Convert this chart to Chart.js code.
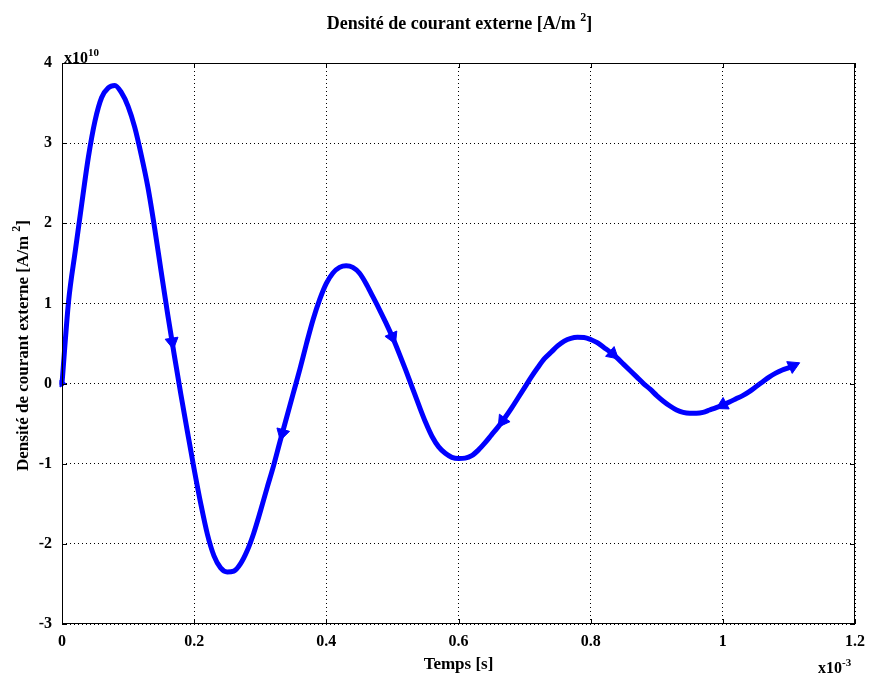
<!DOCTYPE html>
<html>
<head>
<meta charset="utf-8">
<script src="https://cdn.jsdelivr.net/npm/chart.js@4"></script>
<style>
  html, body { margin: 0; padding: 0; background: #fff; }
  canvas { display: block; }
</style>
</head>
<body>
<canvas id="c" width="873" height="678"></canvas>
<script>
// Time samples (x10^-3 s), every 0.01 ms up to the end of the trace
const timeMs = [
  0, 0.01, 0.02, 0.03, 0.04, 0.05, 0.06, 0.07, 0.08, 0.09,
  0.10, 0.11, 0.12, 0.13, 0.14, 0.15, 0.16, 0.17, 0.18, 0.19,
  0.20, 0.21, 0.22, 0.23, 0.24, 0.25, 0.26, 0.27, 0.28, 0.29,
  0.30, 0.31, 0.32, 0.33, 0.34, 0.35, 0.36, 0.37, 0.38, 0.39,
  0.40, 0.41, 0.42, 0.43, 0.44, 0.45, 0.46, 0.47, 0.48, 0.49,
  0.50, 0.51, 0.52, 0.53, 0.54, 0.55, 0.56, 0.57, 0.58, 0.59,
  0.60, 0.61, 0.62, 0.63, 0.64, 0.65, 0.66, 0.67, 0.68, 0.69,
  0.70, 0.71, 0.72, 0.73, 0.74, 0.75, 0.76, 0.77, 0.78, 0.79,
  0.80, 0.81, 0.82, 0.83, 0.84, 0.85, 0.86, 0.87, 0.88, 0.89,
  0.90, 0.91, 0.92, 0.93, 0.94, 0.95, 0.96, 0.97, 0.98, 0.99,
  1.00, 1.01, 1.02, 1.03, 1.04, 1.05, 1.06, 1.07, 1.08, 1.09,
  1.10, 1.106
];
// External current density (x10^10 A/m^2)
const density = [
  0, 1.03, 1.65, 2.25, 2.83, 3.28, 3.57, 3.69, 3.72, 3.63,
  3.46, 3.2, 2.85, 2.45, 1.95, 1.4, 0.86, 0.35, -0.14, -0.61,
  -1.07, -1.5, -1.88, -2.15, -2.3, -2.35, -2.34, -2.25, -2.09, -1.87,
  -1.6, -1.31, -1.03, -0.72, -0.42, -0.12, 0.18, 0.5, 0.8, 1.05,
  1.25, 1.38, 1.45, 1.47, 1.45, 1.38, 1.25, 1.09, 0.93, 0.76,
  0.58, 0.38, 0.17, -0.05, -0.27, -0.48, -0.66, -0.79, -0.87, -0.92,
  -0.935, -0.93, -0.9, -0.83, -0.74, -0.64, -0.54, -0.43, -0.31, -0.18,
  -0.05, 0.08, 0.2, 0.31, 0.39, 0.47, 0.53, 0.565, 0.578, 0.575,
  0.55, 0.51, 0.45, 0.39, 0.32, 0.24, 0.16, 0.08, 0, -0.07,
  -0.15, -0.22, -0.28, -0.33, -0.36, -0.37, -0.37, -0.36, -0.33, -0.3,
  -0.267, -0.23, -0.19, -0.15, -0.1, -0.04, 0.02, 0.08, 0.13, 0.17,
  0.2, 0.22
];

// Arrow markers along the curve
const arrowT = [0, 0.1667, 0.3333, 0.5, 0.6667, 0.8333, 1.0, 1.106];
const arrowY = [0, 0.52, -0.62, 0.58, -0.467, 0.37, -0.267, 0.22];
const arrowRot = [90, 171, 195, 156, 215, 131, 242, 65];

const xTicks = [0, 0.2, 0.4, 0.6, 0.8, 1, 1.2];
const yTicks = [-3, -2, -1, 0, 1, 2, 3, 4];

const titleText = 'Densité de courant externe [A/m ';
const xLabel = 'Temps [s]';
const serif = '"Liberation Serif", "DejaVu Serif", serif';

// Bold serif text with a raised exponent, left-aligned at (x, y)
function textWithSup(ctx, base, sup, tail, x, y, size) {
  ctx.font = 'bold ' + size + 'px ' + serif;
  ctx.fillText(base, x, y);
  let w = ctx.measureText(base).width;
  ctx.font = 'bold ' + Math.round(size * 0.68) + 'px ' + serif;
  ctx.fillText(sup, x + w, y - size * 0.45);
  w += ctx.measureText(sup).width;
  if (tail) {
    ctx.font = 'bold ' + size + 'px ' + serif;
    ctx.fillText(tail, x + w, y);
    w += ctx.measureText(tail).width;
  }
  return w;
}

function measureSup(ctx, base, sup, tail, size) {
  ctx.font = 'bold ' + size + 'px ' + serif;
  let w = ctx.measureText(base).width + (tail ? ctx.measureText(tail).width : 0);
  ctx.font = 'bold ' + Math.round(size * 0.68) + 'px ' + serif;
  return w + ctx.measureText(sup).width;
}

const frame = {
  id: 'frame',
  afterDraw(chart) {
    const ctx = chart.ctx;
    const a = chart.chartArea;
    const xs = chart.scales.x, ys = chart.scales.y;
    ctx.save();
    // Box around the plotting area
    ctx.strokeStyle = '#000';
    ctx.lineWidth = 1;
    ctx.setLineDash([]);
    ctx.strokeRect(a.left + 0.5, a.top + 0.5, a.right - a.left - 1, a.bottom - a.top - 1);
    // Inward tick marks
    ctx.beginPath();
    xTicks.forEach(v => {
      const px = Math.round(xs.getPixelForValue(v)) + 0.5;
      ctx.moveTo(px, a.top); ctx.lineTo(px, a.top + 5);
      ctx.moveTo(px, a.bottom); ctx.lineTo(px, a.bottom - 5);
    });
    yTicks.forEach(v => {
      const py = Math.round(ys.getPixelForValue(v)) + 0.5;
      ctx.moveTo(a.left, py); ctx.lineTo(a.left + 5, py);
      ctx.moveTo(a.right, py); ctx.lineTo(a.right - 5, py);
    });
    ctx.stroke();

    ctx.fillStyle = '#000';
    ctx.textBaseline = 'alphabetic';
    ctx.textAlign = 'left';
    const fs = 17;
    const cx = (a.left + a.right) / 2;

    // Chart title
    const tw = measureSup(ctx, titleText, '2', ']', 18);
    textWithSup(ctx, titleText, '2', ']', cx - tw / 2 + 1, 29, 18);

    // Y axis title (rotated)
    const yw = measureSup(ctx, titleText, '2', ']', fs);
    ctx.save();
    ctx.translate(28, (a.top + a.bottom) / 2);
    ctx.rotate(-Math.PI / 2);
    textWithSup(ctx, titleText, '2', ']', -yw / 2 - 2, 0, fs);
    ctx.restore();

    // X axis title
    ctx.font = 'bold ' + fs + 'px ' + serif;
    const xw = ctx.measureText(xLabel).width;
    ctx.fillText(xLabel, cx - xw / 2, 669);

    // Exponent labels
    textWithSup(ctx, 'x10', '10', '', 64, 63, 16);
    textWithSup(ctx, 'x10', '-3', '', 818, 673, 16);
    ctx.restore();
  }
};

new Chart(document.getElementById('c'), {
  type: 'scatter',
  data: {
    datasets: [
      {
        data: timeMs.map((t, i) => ({ x: t, y: density[i] })),
        showLine: true,
        borderColor: '#0000ff',
        borderWidth: 5,
        pointRadius: 0,
        cubicInterpolationMode: 'monotone',
        borderCapStyle: 'round',
        borderJoinStyle: 'round',
        clip: false,
        order: 1
      },
      {
        data: arrowT.map((t, i) => ({ x: t, y: arrowY[i] })),
        showLine: false,
        pointStyle: 'triangle',
        pointRadius: arrowT.map((t, i) => i === 0 ? 4 : 7.5),
        pointRotation: arrowRot,
        backgroundColor: '#0000ff',
        borderColor: '#0000ff',
        borderWidth: 1,
        clip: false,
        order: 0
      }
    ]
  },
  options: {
    responsive: false,
    animation: false,
    devicePixelRatio: 1,
    layout: { padding: { left: 0, top: 63, right: 16, bottom: 0 } },
    plugins: { legend: { display: false }, tooltip: { enabled: false }, title: { display: false } },
    scales: {
      x: {
        type: 'linear',
        min: 0, max: 1.2,
        afterBuildTicks: s => { s.ticks = xTicks.map(v => ({ value: v })); },
        afterFit: s => { s.height = 54; },
        grid: { color: '#000', lineWidth: 1, drawTicks: false },
        border: { display: false, dash: [1, 3] },
        ticks: {
          padding: 8,
          color: '#000',
          font: { family: serif, size: 16, weight: 'bold' },
          maxRotation: 0,
          callback: v => String(v)
        }
      },
      y: {
        type: 'linear',
        min: -3, max: 4,
        afterBuildTicks: s => { s.ticks = yTicks.map(v => ({ value: v })); },
        afterFit: s => { s.width = 62; },
        grid: { color: '#000', lineWidth: 1, drawTicks: false },
        border: { display: false, dash: [1, 3] },
        ticks: {
          padding: 10,
          color: '#000',
          font: { family: serif, size: 16, weight: 'bold' },
          callback: v => String(v)
        }
      }
    }
  },
  plugins: [frame]
});
</script>
</body>
</html>
